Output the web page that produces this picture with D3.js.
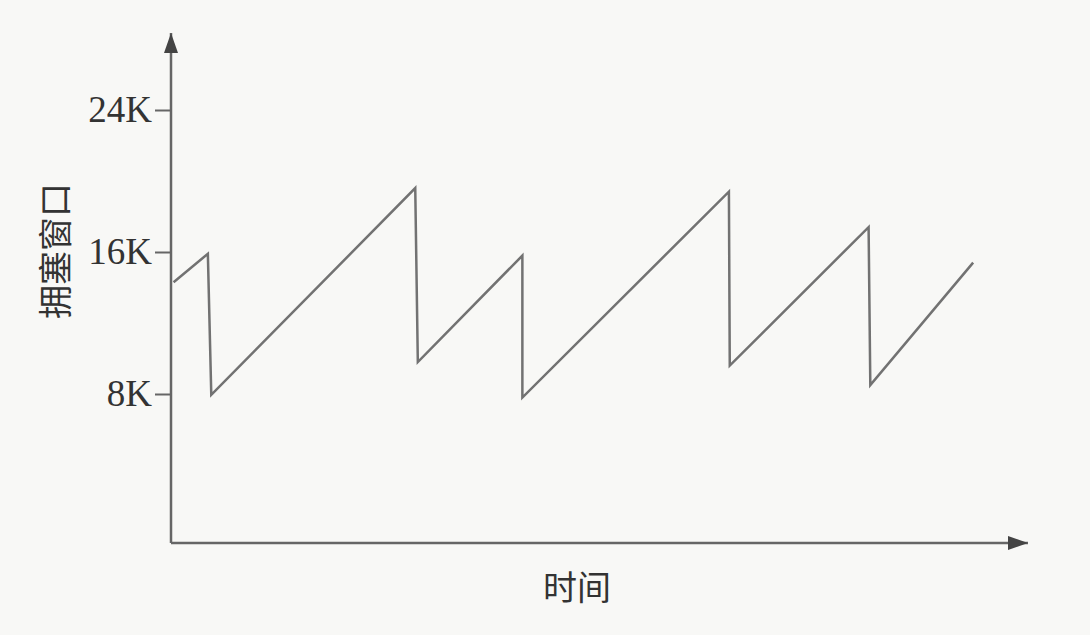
<!DOCTYPE html>
<html><head><meta charset="utf-8">
<script src="https://cdn.jsdelivr.net/npm/d3@7"></script>
<style>
html,body{margin:0;padding:0;background:#f8f8f6;}
svg{display:block;}
</style></head>
<body>
<svg id="chart" width="1090" height="635"></svg>
<script>
// Data (time in arbitrary units, congestion window in K)
const times  = [0.3, 4.3, 4.7, 28.5, 28.8, 41.0, 41.0, 65.1, 65.2, 81.4, 81.6, 93.6];
const cwnd   = [14.3, 15.9, 7.95, 19.6, 9.8, 15.8, 7.8, 19.4, 9.6, 17.4, 8.5, 15.4];
const yTicks = [8, 16, 24];
const yTickLabels = ["8K", "16K", "24K"];
const xTitle = "时间";
const yTitle = "拥塞窗口";

const svg = d3.select("#chart");
const ox = 171, oy = 543;
const x = d3.scaleLinear().domain([0, 100]).range([ox, 1028]);
const y = d3.scaleLinear().domain([8, 24]).range([394, 110]);

const lineColor = "#727272", textColor = "#333";

const defs = svg.append("defs");
defs.append("marker").attr("id","arr").attr("viewBox","0 0 20 14")
  .attr("refX",20).attr("refY",7).attr("markerWidth",20).attr("markerHeight",14)
  .attr("markerUnits","userSpaceOnUse").attr("orient","auto")
  .append("path").attr("d","M0,0 L20,7 L0,14 Z").attr("fill","#444");

svg.append("line").attr("x1",ox).attr("y1",oy).attr("x2",ox).attr("y2",33)
  .attr("stroke","#666").attr("stroke-width",2.5).attr("marker-end","url(#arr)");
svg.append("line").attr("x1",ox).attr("y1",oy).attr("x2",1028).attr("y2",oy)
  .attr("stroke","#666").attr("stroke-width",2.5).attr("marker-end","url(#arr)");

const yAxis = d3.axisLeft(y).tickValues(yTicks).tickSize(16).tickPadding(3)
  .tickFormat(d=>yTickLabels[yTicks.indexOf(d)]);
const gy = svg.append("g").attr("transform",`translate(${ox},0)`).call(yAxis);
gy.select(".domain").remove();
gy.selectAll(".tick line").attr("stroke","#666").attr("stroke-width",2);
gy.selectAll(".tick text").attr("fill",textColor)
  .style("font-family","'Liberation Serif','Times New Roman',serif").style("font-size","37px");

const line = d3.line().x((d,i)=>x(times[i])).y(d=>y(d));
svg.append("path").attr("d", line(cwnd)).attr("fill","none")
  .attr("stroke",lineColor).attr("stroke-width",2.5).attr("stroke-linejoin","miter");

svg.append("text").attr("x",577).attr("y",585).attr("text-anchor","middle")
  .attr("dominant-baseline","central").attr("fill",textColor)
  .style("font-family","'Noto Sans CJK SC',sans-serif").style("font-size","34px").text(xTitle);
svg.append("text").attr("transform","translate(53,251) rotate(-90)").attr("text-anchor","middle")
  .attr("dominant-baseline","central").attr("fill",textColor)
  .style("font-family","'Noto Sans CJK SC',sans-serif").style("font-size","34px").text(yTitle);
</script>
</body></html>
